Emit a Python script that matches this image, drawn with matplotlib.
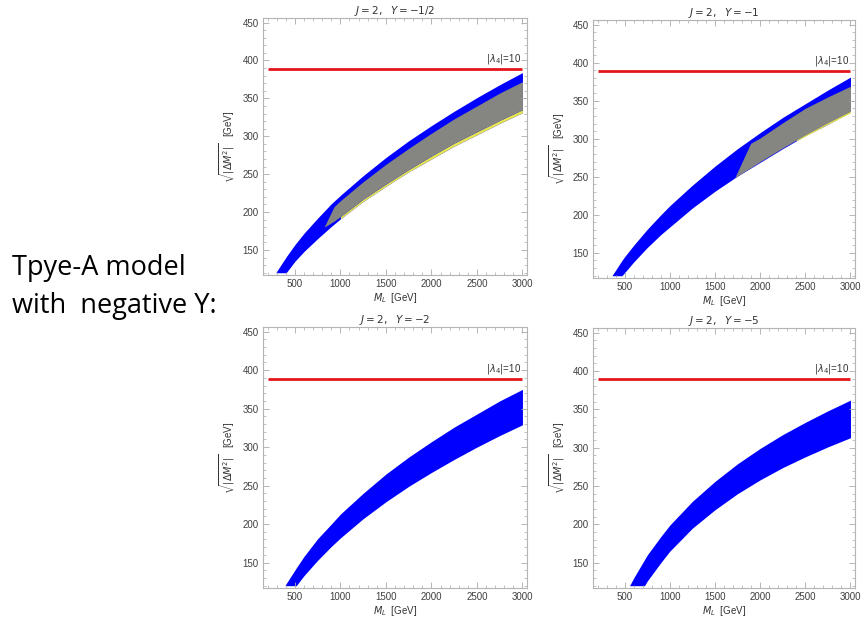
import numpy as np
import matplotlib.pyplot as plt
from matplotlib.ticker import MultipleLocator

# panel titles (J=2 triplet, negative hypercharge)
titles = [r"$J=2,\ \ Y=-1/2$", r"$J=2,\ \ Y=-1$", r"$J=2,\ \ Y=-2$", r"$J=2,\ \ Y=-5$"]

# blue allowed band: M_L grid, upper and lower edge of sqrt(|dM^2|) in GeV
band_x = [
    [290, 405, 500, 600, 750, 900, 1000, 1250, 1500, 1750, 2000, 2250, 2500, 2750, 3000],
    [360, 470, 500, 600, 750, 900, 1000, 1250, 1500, 1750, 2000, 2250, 2500, 2750, 3000],
    [390, 515, 600, 750, 900, 1000, 1250, 1500, 1750, 2000, 2250, 2500, 2750, 3000],
    [555, 600, 720, 750, 900, 1000, 1250, 1500, 1750, 2000, 2250, 2500, 2750, 3000],
]
band_hi = [
    [120, 141, 157, 172, 192, 211, 222, 248, 272, 294, 314, 333, 351, 368, 384],
    [120, 140, 145, 160, 181, 200, 212, 239, 264, 287, 308, 328, 346, 364, 381],
    [120, 143, 158, 181, 200, 213, 240, 265, 287, 307, 326, 343, 360, 375],
    [120, 130, 154, 160, 184, 199, 230, 256, 279, 299, 317, 333, 348, 362],
]
band_lo = [
    [120, 120, 135, 148, 165, 181, 191, 214, 234, 253, 270, 287, 302, 317, 331],
    [120, 120, 124, 138, 157, 174, 184, 209, 231, 251, 269, 287, 304, 319, 335],
    [120, 120, 133, 153, 171, 182, 207, 229, 249, 267, 284, 300, 315, 329],
    [120, 120, 120, 126, 150, 165, 195, 219, 240, 258, 274, 288, 301, 313],
]

# grey region (only Y=-1/2 and Y=-1)
grey_x = [
    [820, 930, 1000, 1250, 1500, 1750, 2000, 2250, 2500, 2750, 3000],
    [1720, 1895, 2000, 2250, 2500, 2750, 3000],
]
grey_hi = [
    [180, 207, 215, 240, 263, 284, 304, 323, 340, 357, 372],
    [249, 294, 301, 321, 340, 355, 369],
]
grey_lo = [
    [180, 188, 194, 217, 237, 256, 274, 291, 306, 321, 335],
    [249, 262, 270, 288, 305, 321, 336],
]

# thin yellow strip under the grey region
yel_x = [[1000, 1250, 1500, 1750, 2000, 2250, 2500, 2750, 3000], [2400, 2700, 3000]]
yel_lo = [[191, 214, 234, 253, 270, 287, 302, 317, 331], [297, 316, 334]]
yel_hi = [[194, 217, 237, 256, 274, 291, 306, 321, 335], [300, 319, 337]]

lam_line = 389  # |lambda_4| = 10

positions = [
    [263 / 862, 1 - 275 / 620, 264 / 862, 257 / 620],
    [593 / 862, 1 - 278 / 620, 262 / 862, 258 / 620],
    [263 / 862, 1 - 588 / 620, 264 / 862, 261 / 620],
    [593 / 862, 1 - 588 / 620, 262 / 862, 260 / 620],
]

plt.rcParams['font.family'] = ['Liberation Sans', 'DejaVu Sans']
plt.rcParams['mathtext.fontset'] = 'dejavusans'

fig = plt.figure(figsize=(8.62, 6.2), dpi=100)

for i in range(4):
    ax = fig.add_axes(positions[i])
    ax.fill_between(band_x[i], band_lo[i], band_hi[i], color='#0000ff', lw=0)
    if i < 2:
        ax.fill_between(yel_x[i], yel_lo[i], yel_hi[i], color='#e6e64c', lw=0)
        ax.fill_between(grey_x[i], grey_lo[i], grey_hi[i], color='#858582', lw=0)
    ax.hlines(lam_line, 200, 3000, color='#e3161c', lw=2)
    ax.text(2790, lam_line + 4, r"$|\lambda_4|$=10", fontsize=7, ha='center', va='bottom', color='#333333')

    ax.set_xlim(150, 3050)
    ax.set_ylim(117, 456)
    ax.xaxis.set_major_locator(MultipleLocator(500))
    ax.xaxis.set_minor_locator(MultipleLocator(100))
    ax.yaxis.set_major_locator(MultipleLocator(50))
    ax.yaxis.set_minor_locator(MultipleLocator(10))
    ax.set_xticks([500, 1000, 1500, 2000, 2500, 3000])
    ax.set_yticks([150, 200, 250, 300, 350, 400, 450])
    ax.tick_params(which='both', direction='in', top=True, right=True,
                   color='#aaaaaa', labelsize=7, labelcolor='#404040', pad=3)
    ax.tick_params(which='major', length=4, width=0.6)
    ax.tick_params(which='minor', length=2, width=0.5)
    for s in ax.spines.values():
        s.set_color('#b4b4b4')
        s.set_linewidth(0.8)

    ax.set_title(titles[i], fontsize=7.5, color='#333333', pad=2)
    ax.set_xlabel(r"$M_L$  [GeV]", fontsize=7, color='#333333', labelpad=1)
    ax.set_ylabel(r"$\sqrt{|\Delta M^2|}$   [GeV]", fontsize=7, color='#333333', labelpad=4)

fig.text(12 / 862, 1 - 268 / 620, "Tpye-A model", fontsize=19.5, family='Open Sans', va='center', ha='left', color='black')
fig.text(12 / 862, 1 - 306 / 620, "with  negative Y:", fontsize=19.5, family='Open Sans', va='center', ha='left', color='black')

fig.savefig('out.png', dpi=100)
